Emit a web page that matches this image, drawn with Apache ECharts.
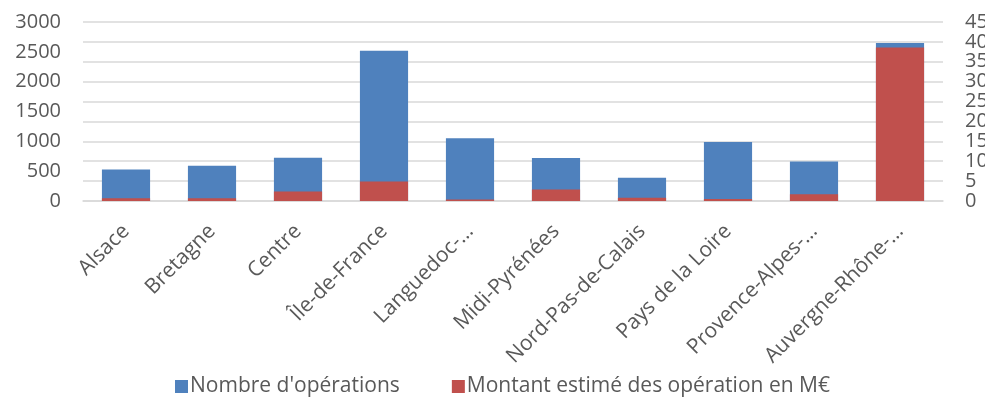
<!DOCTYPE html>
<html>
<head>
<meta charset="utf-8">
<script src="https://cdn.jsdelivr.net/npm/echarts@6/dist/echarts.min.js"></script>
<style>
  html, body { margin: 0; padding: 0; background: #fff; }
  #chart { width: 985px; height: 418px; }
</style>
</head>
<body>
<div id="chart"></div>
<script>
// Regions as they appear on the axis (long names shortened)
const regions = [
  'Alsace', 'Bretagne', 'Centre', 'Île-de-France', 'Languedoc-…',
  'Midi-Pyrénées', 'Nord-Pas-de-Calais', 'Pays de la Loire',
  'Provence-Alpes-…', 'Auvergne-Rhône-…'
];
// Number of operations (left axis)
const nombreOperations = [530, 590, 725, 2520, 1050, 720, 390, 990, 660, 2650];
// Estimated amount in M€ (right axis)
const montantEstime = [0.7, 0.7, 2.4, 4.9, 0.4, 2.9, 0.8, 0.5, 1.7, 38.6];

const leftTicks = { min: 0, max: 3000, interval: 500 };
const rightTicks = { min: 0, max: 45, interval: 5 };

const seriesNames = ["Nombre d'opérations", 'Montant estimé des opération en M€'];

const font = 'Open Sans';
const textColor = '#595959';

const chart = echarts.init(document.getElementById('chart'), null, { renderer: 'canvas' });
chart.setOption({
  animation: false,
  textStyle: { fontFamily: font },
  grid: {
    left: 83, right: 42, top: 22, bottom: 217,
    containLabel: false,
    outerBoundsMode: 'none'
  },
  legend: {
    top: 371,
    left: 170,
    itemGap: 52,
    itemWidth: 13,
    itemHeight: 13,
    icon: 'rect',
    textStyle: { fontFamily: font, fontSize: 21, color: textColor, padding: [0, 0, 0, -3] },
    data: seriesNames
  },
  xAxis: {
    type: 'category',
    data: regions,
    axisLine: { show: true, lineStyle: { color: '#d9d9d9', width: 1.5 } },
    axisTick: { show: false },
    axisLabel: {
      interval: 0,
      rotate: 45,
      margin: 27,
      fontFamily: font,
      fontSize: 21,
      color: textColor
    }
  },
  yAxis: [
    {
      type: 'value',
      min: leftTicks.min, max: leftTicks.max, interval: leftTicks.interval,
      axisLine: { show: false },
      axisTick: { show: false },
      splitLine: { show: false },
      axisLabel: {
        fontFamily: font, fontSize: 20, color: textColor, margin: 22,
        formatter: v => String(v)
      }
    },
    {
      type: 'value',
      min: rightTicks.min, max: rightTicks.max, interval: rightTicks.interval,
      axisLine: { show: false },
      axisTick: { show: false },
      splitLine: { show: true, lineStyle: { color: '#d9d9d9', width: 1.5 } },
      axisLabel: {
        fontFamily: font, fontSize: 20, color: textColor, margin: 22, align: 'left',
        formatter: v => String(v)
      }
    }
  ],
  series: [
    {
      name: seriesNames[0],
      type: 'bar',
      yAxisIndex: 0,
      data: nombreOperations,
      barWidth: '56%',
      barGap: '-100%',
      itemStyle: { color: '#4f81bd' }
    },
    {
      name: seriesNames[1],
      type: 'bar',
      yAxisIndex: 1,
      data: montantEstime,
      barWidth: '56%',
      barGap: '-100%',
      itemStyle: { color: '#c0504d' }
    }
  ]
});
</script>
</body>
</html>
